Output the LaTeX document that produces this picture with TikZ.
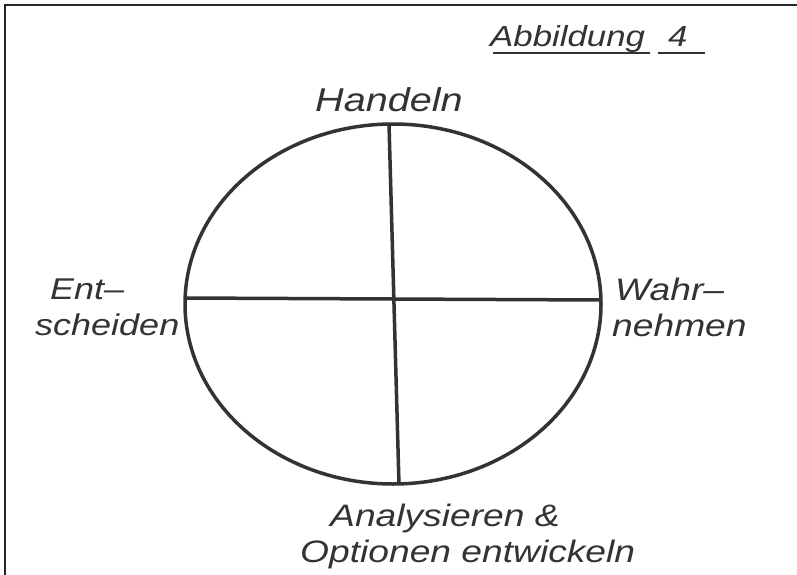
\documentclass[tikz,border=0pt]{standalone}
\usepackage{fontspec}
\setmainfont{Liberation Sans}
\newfontfamily\handfont[FakeStretch=1.2]{Liberation Sans}
\begin{document}
\begin{tikzpicture}[x=1pt,y=-1pt,
  pen/.style={line width=3.5pt,draw=black!80},
  hand/.style={font=\handfont\fontsize{31}{34}\selectfont\itshape,text=black!80,inner sep=0pt,
    anchor=base west},
  frame/.style={line width=1.6pt,draw=black!85}]
\useasboundingbox (0,0) rectangle (797,575);
\fill[white] (0,0) rectangle (797,575);
\draw[frame] (5,575) -- (5,5) -- (797,5);
% circle
\draw[pen] (393,304) ellipse [x radius=208, y radius=180];
\coordinate (top) at (389,124);
\coordinate (bot) at (399,485);
\coordinate (lft) at (185,298);
\coordinate (rgt) at (601,300);
\draw[pen] (top) -- (bot);
\draw[pen] (lft) -- (rgt);
% labels
\node[hand,font=\handfont\fontsize{33}{34}\selectfont\itshape] (handeln) at (315,112) {Handeln};
\node[hand,font=\handfont\fontsize{30}{34}\selectfont\itshape] (ent1) at (50,299) {Ent–};
\node[hand,font=\handfont\fontsize{30}{34}\selectfont\itshape] (ent2) at (35,335) {scheiden};
\node[hand] (wahr1) at (615,300) {Wahr–};
\node[hand] (wahr2) at (612,336) {nehmen};
\node[hand] (ana1) at (330,526) {Analysieren \&};
\node[hand] (ana2) at (300,562) {Optionen entwickeln};
\node[hand,font=\handfont\fontsize{29}{34}\selectfont\itshape] (abb) at (490,47) {Abbildung};
\node[hand,font=\handfont\fontsize{29}{34}\selectfont\itshape] (four) at (668,47) {4};
\draw[line width=2pt,draw=black!80] (493,53) -- (650,53) (658,53) -- (705,53);
\end{tikzpicture}
\end{document}
